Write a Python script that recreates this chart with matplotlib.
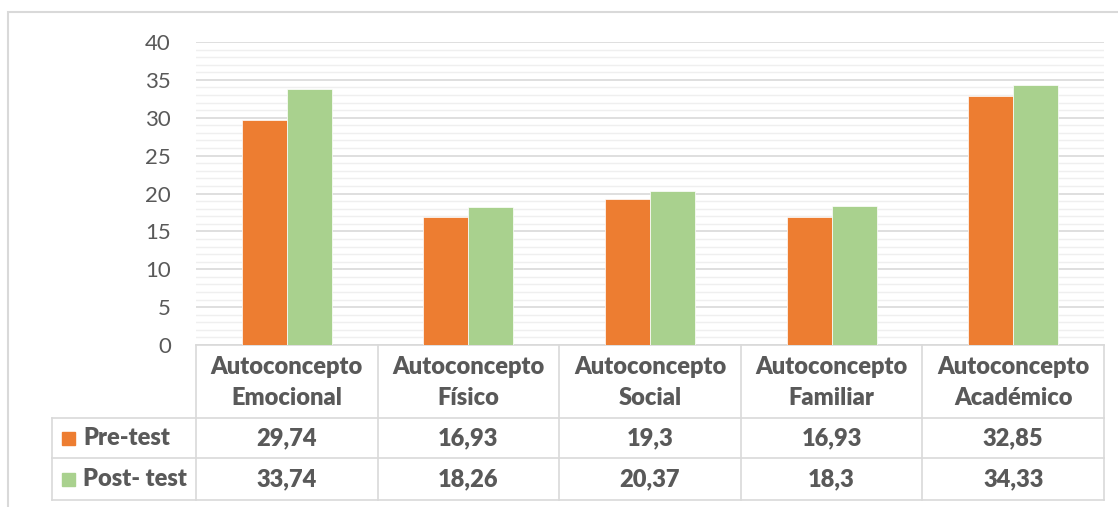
import matplotlib
matplotlib.use("Agg")
import matplotlib.pyplot as plt
from matplotlib.patches import Rectangle
import numpy as np

plt.rcParams["font.family"] = ["Lato", "DejaVu Sans"]

# data
categories = [
    "Autoconcepto\nEmocional",
    "Autoconcepto\nFísico",
    "Autoconcepto\nSocial",
    "Autoconcepto\nFamiliar",
    "Autoconcepto\nAcadémico",
]
series_names = ["Pre-test", "Post- test"]
pre_test = [29.74, 16.93, 19.3, 16.93, 32.85]
post_test = [33.74, 18.26, 20.37, 18.3, 34.33]

ORANGE = "#ED7D31"
GREEN = "#A9D18E"
TEXT = "#595959"
GRID = "#d9d9d9"
MINOR = "#efefef"

W, H = 1118, 507
fig = plt.figure(figsize=(W / 100, H / 100), dpi=100)


def fx(px):
    return px / W


def fy(py):
    return 1 - py / H


# outer chart frame
fig.patches.append(Rectangle((fx(8), -0.1), 1.2, fy(12) + 0.1,
                             transform=fig.transFigure, fill=False,
                             edgecolor=GRID, linewidth=1.5))

left_px, right_px, top_px, zero_px = 196, 1104, 42, 345
ax = fig.add_axes([fx(left_px), fy(zero_px), fx(right_px - left_px),
                   (zero_px - top_px) / H])

x = np.arange(len(categories))
bw = 0.248
ax.bar(x - bw / 2, pre_test, bw, color=ORANGE, edgecolor="white", linewidth=0.5, zorder=3)
ax.bar(x + bw / 2, post_test, bw, color=GREEN, edgecolor="white", linewidth=0.5, zorder=3)

ax.set_xlim(-0.5, len(categories) - 0.5)
ax.set_ylim(0, 40)
ax.set_yticks(np.arange(0, 41, 5))
ax.set_yticks(np.arange(0, 41, 1), minor=True)
ax.grid(axis="y", which="major", color=GRID, linewidth=1.2, zorder=0)
ax.grid(axis="y", which="minor", color=MINOR, linewidth=1.0, zorder=0)
ax.set_xticks([])
ax.tick_params(axis="y", which="both", length=0, labelsize=16,
               labelcolor=TEXT, pad=18)
for s in ["top", "right", "left"]:
    ax.spines[s].set_visible(False)
ax.spines["bottom"].set_color(GRID)
ax.spines["bottom"].set_linewidth(1.2)

# data table below the plot
tab_left_px, tab_bottom_px = 52, 500
row_px = [345, 418, 458, 500]
cat_w = (right_px - left_px) / len(categories)
tab_left = -0.5 - (left_px - tab_left_px) / cat_w

axt = fig.add_axes([fx(tab_left_px), fy(tab_bottom_px),
                    fx(right_px - tab_left_px), (tab_bottom_px - row_px[0]) / H])
axt.set_xlim(tab_left, len(categories) - 0.5)
axt.set_ylim(tab_bottom_px, row_px[0])
axt.axis("off")

lkw = dict(color=GRID, linewidth=1.2, clip_on=False)
# horizontal lines
axt.plot([tab_left, len(categories) - 0.5], [row_px[1]] * 2, **lkw)
axt.plot([tab_left, len(categories) - 0.5], [row_px[2]] * 2, **lkw)
axt.plot([tab_left, len(categories) - 0.5], [row_px[3]] * 2, **lkw)
# vertical lines
for b in np.arange(len(categories) + 1) - 0.5:
    axt.plot([b, b], [row_px[0], row_px[3]], **lkw)
axt.plot([tab_left, tab_left], [row_px[1], row_px[3]], **lkw)

tkw = dict(color=TEXT, fontsize=17, fontweight="heavy", ha="center", va="center")
for i, c in enumerate(categories):
    axt.text(i, (row_px[0] + row_px[1]) / 2 + 1, c, linespacing=1.45, **tkw)

rows = [(series_names[0], pre_test, ORANGE), (series_names[1], post_test, GREEN)]
for r, (name, vals, col) in enumerate(rows):
    yc = (row_px[r + 1] + row_px[r + 2]) / 2
    for i, v in enumerate(vals):
        axt.text(i, yc, f"{v:g}".replace(".", ","), **tkw)
    sq = 13 / cat_w
    axt.add_patch(Rectangle((tab_left + 10 / cat_w, yc + 6.5), sq, -13,
                            color=col, clip_on=False))
    axt.text(tab_left + 31 / cat_w, yc, name, color=TEXT, fontsize=17,
             fontweight="heavy", ha="left", va="center")

fig.savefig("out.png", dpi=100)
